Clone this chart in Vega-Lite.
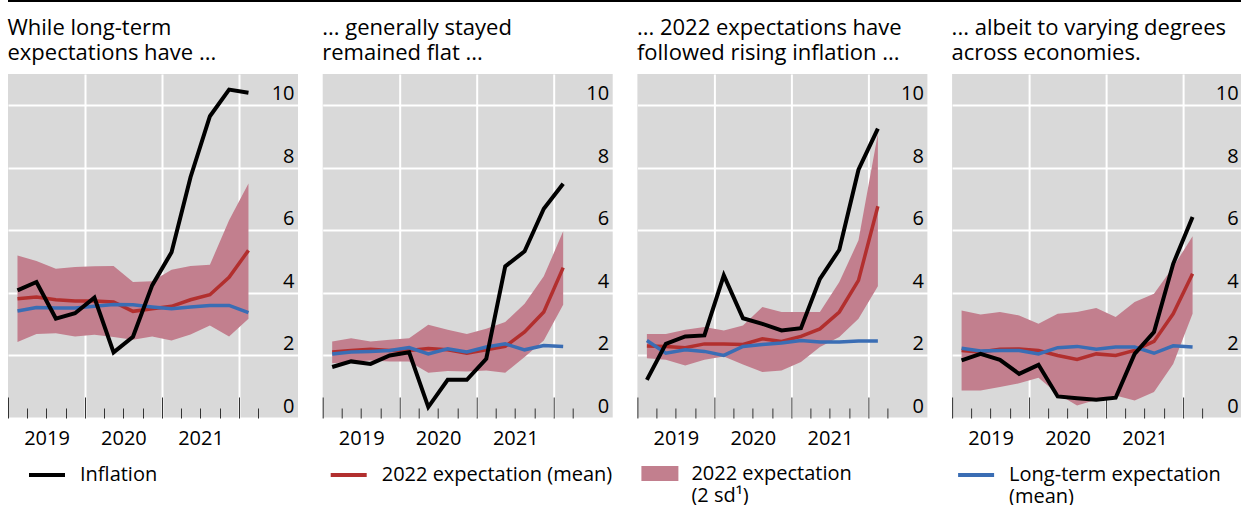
{
  "$schema": "https://vega.github.io/schema/vega-lite/v6.json",
  "padding": {"left": 7, "top": 0, "right": 0, "bottom": 0},
  "background": "#ffffff",
  "datasets": {
    "obs": [
      {"country": "BR", "date": "2019-02-15", "inflation": 4.08, "exp_mean": 3.81, "exp_lo": 2.43, "exp_hi": 5.2, "lt_mean": 3.42},
      {"country": "BR", "date": "2019-05-16", "inflation": 4.35, "exp_mean": 3.87, "exp_lo": 2.69, "exp_hi": 5.02, "lt_mean": 3.53},
      {"country": "BR", "date": "2019-08-16", "inflation": 3.18, "exp_mean": 3.78, "exp_lo": 2.71, "exp_hi": 4.77, "lt_mean": 3.52},
      {"country": "BR", "date": "2019-11-15", "inflation": 3.35, "exp_mean": 3.74, "exp_lo": 2.61, "exp_hi": 4.83, "lt_mean": 3.52},
      {"country": "BR", "date": "2020-02-15", "inflation": 3.85, "exp_mean": 3.74, "exp_lo": 2.66, "exp_hi": 4.85, "lt_mean": 3.57},
      {"country": "BR", "date": "2020-05-16", "inflation": 2.1, "exp_mean": 3.71, "exp_lo": 2.59, "exp_hi": 4.86, "lt_mean": 3.63},
      {"country": "BR", "date": "2020-08-16", "inflation": 2.6, "exp_mean": 3.41, "exp_lo": 2.5, "exp_hi": 4.35, "lt_mean": 3.62},
      {"country": "BR", "date": "2020-11-15", "inflation": 4.24, "exp_mean": 3.49, "exp_lo": 2.61, "exp_hi": 4.37, "lt_mean": 3.55},
      {"country": "BR", "date": "2021-02-15", "inflation": 5.3, "exp_mean": 3.57, "exp_lo": 2.48, "exp_hi": 4.74, "lt_mean": 3.49},
      {"country": "BR", "date": "2021-05-16", "inflation": 7.7, "exp_mean": 3.78, "exp_lo": 2.67, "exp_hi": 4.86, "lt_mean": 3.55},
      {"country": "BR", "date": "2021-08-16", "inflation": 9.65, "exp_mean": 3.94, "exp_lo": 2.96, "exp_hi": 4.9, "lt_mean": 3.6},
      {"country": "BR", "date": "2021-11-15", "inflation": 10.5, "exp_mean": 4.5, "exp_lo": 2.61, "exp_hi": 6.32, "lt_mean": 3.6},
      {"country": "BR", "date": "2022-02-15", "inflation": 10.4, "exp_mean": 5.36, "exp_lo": 3.17, "exp_hi": 7.5, "lt_mean": 3.37},
      {"country": "US", "date": "2019-02-15", "inflation": 1.63, "exp_mean": 2.11, "exp_lo": 1.75, "exp_hi": 2.45, "lt_mean": 2.05},
      {"country": "US", "date": "2019-05-16", "inflation": 1.81, "exp_mean": 2.16, "exp_lo": 1.79, "exp_hi": 2.55, "lt_mean": 2.11},
      {"country": "US", "date": "2019-08-16", "inflation": 1.73, "exp_mean": 2.2, "exp_lo": 1.84, "exp_hi": 2.45, "lt_mean": 2.13},
      {"country": "US", "date": "2019-11-15", "inflation": 2.0, "exp_mean": 2.16, "exp_lo": 1.81, "exp_hi": 2.5, "lt_mean": 2.16},
      {"country": "US", "date": "2020-02-15", "inflation": 2.1, "exp_mean": 2.16, "exp_lo": 1.81, "exp_hi": 2.55, "lt_mean": 2.25},
      {"country": "US", "date": "2020-05-16", "inflation": 0.35, "exp_mean": 2.22, "exp_lo": 1.45, "exp_hi": 2.98, "lt_mean": 2.05},
      {"country": "US", "date": "2020-08-16", "inflation": 1.22, "exp_mean": 2.18, "exp_lo": 1.5, "exp_hi": 2.82, "lt_mean": 2.21},
      {"country": "US", "date": "2020-11-15", "inflation": 1.22, "exp_mean": 2.07, "exp_lo": 1.49, "exp_hi": 2.69, "lt_mean": 2.11},
      {"country": "US", "date": "2021-02-15", "inflation": 1.89, "exp_mean": 2.18, "exp_lo": 1.52, "exp_hi": 2.85, "lt_mean": 2.27},
      {"country": "US", "date": "2021-05-16", "inflation": 4.85, "exp_mean": 2.29, "exp_lo": 1.45, "exp_hi": 3.07, "lt_mean": 2.37},
      {"country": "US", "date": "2021-08-16", "inflation": 5.33, "exp_mean": 2.75, "exp_lo": 1.95, "exp_hi": 3.65, "lt_mean": 2.18},
      {"country": "US", "date": "2021-11-15", "inflation": 6.69, "exp_mean": 3.39, "exp_lo": 2.48, "exp_hi": 4.53, "lt_mean": 2.32},
      {"country": "US", "date": "2022-02-15", "inflation": 7.49, "exp_mean": 4.81, "exp_lo": 3.62, "exp_hi": 5.97, "lt_mean": 2.29},
      {"country": "PL", "date": "2019-02-15", "inflation": 1.22, "exp_mean": 2.3, "exp_lo": 1.91, "exp_hi": 2.69, "lt_mean": 2.48},
      {"country": "PL", "date": "2019-05-16", "inflation": 2.37, "exp_mean": 2.29, "exp_lo": 1.86, "exp_hi": 2.69, "lt_mean": 2.07},
      {"country": "PL", "date": "2019-08-16", "inflation": 2.61, "exp_mean": 2.25, "exp_lo": 1.68, "exp_hi": 2.82, "lt_mean": 2.18},
      {"country": "PL", "date": "2019-11-15", "inflation": 2.64, "exp_mean": 2.37, "exp_lo": 1.86, "exp_hi": 2.91, "lt_mean": 2.13},
      {"country": "PL", "date": "2020-02-15", "inflation": 4.56, "exp_mean": 2.37, "exp_lo": 1.97, "exp_hi": 2.8, "lt_mean": 2.0},
      {"country": "PL", "date": "2020-05-16", "inflation": 3.19, "exp_mean": 2.35, "exp_lo": 1.71, "exp_hi": 2.96, "lt_mean": 2.29},
      {"country": "PL", "date": "2020-08-16", "inflation": 3.01, "exp_mean": 2.53, "exp_lo": 1.47, "exp_hi": 3.55, "lt_mean": 2.35},
      {"country": "PL", "date": "2020-11-15", "inflation": 2.8, "exp_mean": 2.45, "exp_lo": 1.52, "exp_hi": 3.39, "lt_mean": 2.4},
      {"country": "PL", "date": "2021-02-15", "inflation": 2.87, "exp_mean": 2.61, "exp_lo": 1.79, "exp_hi": 3.39, "lt_mean": 2.48},
      {"country": "PL", "date": "2021-05-16", "inflation": 4.45, "exp_mean": 2.85, "exp_lo": 2.27, "exp_hi": 3.39, "lt_mean": 2.43},
      {"country": "PL", "date": "2021-08-16", "inflation": 5.38, "exp_mean": 3.39, "exp_lo": 2.59, "exp_hi": 4.35, "lt_mean": 2.43},
      {"country": "PL", "date": "2021-11-15", "inflation": 7.94, "exp_mean": 4.4, "exp_lo": 3.17, "exp_hi": 5.68, "lt_mean": 2.46},
      {"country": "PL", "date": "2022-02-15", "inflation": 9.25, "exp_mean": 6.77, "exp_lo": 4.21, "exp_hi": 9.09, "lt_mean": 2.46},
      {"country": "GB", "date": "2019-02-15", "inflation": 1.84, "exp_mean": 2.16, "exp_lo": 0.88, "exp_hi": 3.44, "lt_mean": 2.23},
      {"country": "GB", "date": "2019-05-16", "inflation": 2.05, "exp_mean": 2.11, "exp_lo": 0.88, "exp_hi": 3.31, "lt_mean": 2.14},
      {"country": "GB", "date": "2019-08-16", "inflation": 1.86, "exp_mean": 2.2, "exp_lo": 0.99, "exp_hi": 3.39, "lt_mean": 2.16},
      {"country": "GB", "date": "2019-11-15", "inflation": 1.41, "exp_mean": 2.21, "exp_lo": 1.11, "exp_hi": 3.28, "lt_mean": 2.16},
      {"country": "GB", "date": "2020-02-15", "inflation": 1.7, "exp_mean": 2.16, "exp_lo": 1.29, "exp_hi": 3.01, "lt_mean": 2.05},
      {"country": "GB", "date": "2020-05-16", "inflation": 0.69, "exp_mean": 2.0, "exp_lo": 0.77, "exp_hi": 3.33, "lt_mean": 2.25},
      {"country": "GB", "date": "2020-08-16", "inflation": 0.63, "exp_mean": 1.87, "exp_lo": 0.4, "exp_hi": 3.39, "lt_mean": 2.29},
      {"country": "GB", "date": "2020-11-15", "inflation": 0.58, "exp_mean": 2.05, "exp_lo": 0.58, "exp_hi": 3.52, "lt_mean": 2.2},
      {"country": "GB", "date": "2021-02-15", "inflation": 0.65, "exp_mean": 2.0, "exp_lo": 0.72, "exp_hi": 3.23, "lt_mean": 2.27},
      {"country": "GB", "date": "2021-05-16", "inflation": 2.05, "exp_mean": 2.16, "exp_lo": 0.56, "exp_hi": 3.71, "lt_mean": 2.27},
      {"country": "GB", "date": "2021-08-16", "inflation": 2.75, "exp_mean": 2.45, "exp_lo": 0.83, "exp_hi": 3.97, "lt_mean": 2.07},
      {"country": "GB", "date": "2021-11-15", "inflation": 4.93, "exp_mean": 3.33, "exp_lo": 1.73, "exp_hi": 4.83, "lt_mean": 2.31},
      {"country": "GB", "date": "2022-02-15", "inflation": 6.43, "exp_mean": 4.61, "exp_lo": 3.33, "exp_hi": 5.81, "lt_mean": 2.27}
    ]
  },
  "bounds": "flush",
  "spacing": 72,
  "vconcat": [
    {
      "width": 1234,
      "height": 1,
      "data": {"values": [{}]},
      "view": {"fill": null, "stroke": null},
      "mark": {"type": "rule", "color": "#000000", "strokeWidth": 2},
      "encoding": {"y": {"datum": 1, "type": "quantitative", "scale": {"domain": [0, 1]}, "axis": null}}
    },
    {
      "bounds": "flush",
      "spacing": 24.7,
      "resolve": {"scale": {"color": "independent"}},
      "hconcat": [
        {
          "title": {"text": ["While long-term", "expectations have ..."]},
          "width": 290,
          "height": 344,
          "data": {"name": "obs"},
          "transform": [{"filter": "datum.country === 'BR'"}],
          "encoding": {
            "x": {
              "field": "date", "type": "temporal", "title": null,
              "scale": {"type": "utc", "domain": [{"year": 2019, "month": 1, "date": 1, "utc": true}, {"year": 2022, "month": 10, "date": 8, "utc": true}]},
              "axis": {
                "values": [
                  {"year": 2019, "month": 1, "date": 1, "utc": true}, {"year": 2019, "month": 4, "date": 1, "utc": true}, {"year": 2019, "month": 7, "date": 1, "utc": true}, {"year": 2019, "month": 10, "date": 1, "utc": true},
                  {"year": 2020, "month": 1, "date": 1, "utc": true}, {"year": 2020, "month": 4, "date": 1, "utc": true}, {"year": 2020, "month": 7, "date": 1, "utc": true}, {"year": 2020, "month": 10, "date": 1, "utc": true},
                  {"year": 2021, "month": 1, "date": 1, "utc": true}, {"year": 2021, "month": 4, "date": 1, "utc": true}, {"year": 2021, "month": 7, "date": 1, "utc": true}, {"year": 2021, "month": 10, "date": 1, "utc": true},
                  {"year": 2022, "month": 1, "date": 1, "utc": true}, {"year": 2022, "month": 4, "date": 1, "utc": true}
                ],
                "labelExpr": "utcmonth(datum.value) === 0 && utcyear(datum.value) < 2022 ? utcFormat(datum.value, '%Y') : ''",
                "tickSize": {"condition": {"test": "utcmonth(datum.value) === 0", "value": -21}, "value": -10},
                "gridOpacity": {"condition": {"test": "utcmonth(datum.value) === 0 && utcyear(datum.value) > 2019", "value": 1}, "value": 0}
              }
            }
          },
          "layer": [
            {
              "mark": {"type": "area", "color": "#c27f8e"},
              "encoding": {
                "y": {"field": "exp_lo", "type": "quantitative", "title": null, "scale": {"domain": [0, 11]}, "axis": {"values": [0, 2, 4, 6, 8, 10], "orient": "right"}},
                "y2": {"field": "exp_hi"}
              }
            },
            {
              "mark": {"type": "line", "color": "#b22f2e", "strokeWidth": 3.5},
              "encoding": {"y": {"field": "exp_mean", "type": "quantitative", "title": null, "scale": {"domain": [0, 11]}}}
            },
            {
              "mark": {"type": "line", "color": "#3a6db4", "strokeWidth": 3.5},
              "encoding": {"y": {"field": "lt_mean", "type": "quantitative", "title": null, "scale": {"domain": [0, 11]}}}
            },
            {
              "mark": {"type": "line", "strokeWidth": 4},
              "encoding": {
                "y": {"field": "inflation", "type": "quantitative", "title": null, "scale": {"domain": [0, 11]}},
                "color": {
                  "datum": "Inflation", "type": "nominal",
                  "scale": {"range": ["#000000"]},
                  "legend": {"title": null, "legendX": 19, "legendY": 381, "symbolType": "stroke", "symbolSize": 1296, "symbolStrokeWidth": 4}
                }
              }
            },
            {
              "data": {"values": [{"country": "BR"}]},
              "mark": {"type": "text", "fontWeight": "bold", "fontSize": 19, "baseline": "middle", "align": "center", "dx": 1, "color": "#000000"},
              "encoding": {
                "text": {"field": "country"},
                "x": {"datum": {"year": 2021, "month": 1, "date": 1, "utc": true}},
                "y": {"datum": 10.4}
              }
            }
          ]
        },
        {
          "title": {"text": ["... generally stayed", "remained flat ..."]},
          "width": 290,
          "height": 344,
          "data": {"name": "obs"},
          "transform": [{"filter": "datum.country === 'US'"}],
          "encoding": {
            "x": {
              "field": "date", "type": "temporal", "title": null,
              "scale": {"type": "utc", "domain": [{"year": 2019, "month": 1, "date": 1, "utc": true}, {"year": 2022, "month": 10, "date": 8, "utc": true}]},
              "axis": {
                "values": [
                  {"year": 2019, "month": 1, "date": 1, "utc": true}, {"year": 2019, "month": 4, "date": 1, "utc": true}, {"year": 2019, "month": 7, "date": 1, "utc": true}, {"year": 2019, "month": 10, "date": 1, "utc": true},
                  {"year": 2020, "month": 1, "date": 1, "utc": true}, {"year": 2020, "month": 4, "date": 1, "utc": true}, {"year": 2020, "month": 7, "date": 1, "utc": true}, {"year": 2020, "month": 10, "date": 1, "utc": true},
                  {"year": 2021, "month": 1, "date": 1, "utc": true}, {"year": 2021, "month": 4, "date": 1, "utc": true}, {"year": 2021, "month": 7, "date": 1, "utc": true}, {"year": 2021, "month": 10, "date": 1, "utc": true},
                  {"year": 2022, "month": 1, "date": 1, "utc": true}, {"year": 2022, "month": 4, "date": 1, "utc": true}
                ],
                "labelExpr": "utcmonth(datum.value) === 0 && utcyear(datum.value) < 2022 ? utcFormat(datum.value, '%Y') : ''",
                "tickSize": {"condition": {"test": "utcmonth(datum.value) === 0", "value": -21}, "value": -10},
                "gridOpacity": {"condition": {"test": "utcmonth(datum.value) === 0 && utcyear(datum.value) > 2019", "value": 1}, "value": 0}
              }
            }
          },
          "layer": [
            {
              "mark": {"type": "area", "color": "#c27f8e"},
              "encoding": {
                "y": {"field": "exp_lo", "type": "quantitative", "title": null, "scale": {"domain": [0, 11]}, "axis": {"values": [0, 2, 4, 6, 8, 10], "orient": "right"}},
                "y2": {"field": "exp_hi"}
              }
            },
            {
              "mark": {"type": "line", "strokeWidth": 3.5},
              "encoding": {
                "y": {"field": "exp_mean", "type": "quantitative", "title": null, "scale": {"domain": [0, 11]}},
                "color": {
                  "datum": "2022 expectation (mean)", "type": "nominal",
                  "scale": {"range": ["#b22f2e"]},
                  "legend": {"title": null, "legendX": 6, "legendY": 381, "symbolType": "stroke", "symbolSize": 1296, "symbolStrokeWidth": 4}
                }
              }
            },
            {
              "mark": {"type": "line", "color": "#3a6db4", "strokeWidth": 3.5},
              "encoding": {"y": {"field": "lt_mean", "type": "quantitative", "title": null, "scale": {"domain": [0, 11]}}}
            },
            {
              "mark": {"type": "line", "color": "#000000", "strokeWidth": 4},
              "encoding": {"y": {"field": "inflation", "type": "quantitative", "title": null, "scale": {"domain": [0, 11]}}}
            },
            {
              "data": {"values": [{"country": "US"}]},
              "mark": {"type": "text", "fontWeight": "bold", "fontSize": 19, "baseline": "middle", "align": "center", "dx": 1, "color": "#000000"},
              "encoding": {
                "text": {"field": "country"},
                "x": {"datum": {"year": 2021, "month": 1, "date": 1, "utc": true}},
                "y": {"datum": 10.4}
              }
            }
          ]
        },
        {
          "title": {"text": ["... 2022 expectations have", "followed rising inflation ..."]},
          "width": 290,
          "height": 344,
          "data": {"name": "obs"},
          "transform": [{"filter": "datum.country === 'PL'"}],
          "encoding": {
            "x": {
              "field": "date", "type": "temporal", "title": null,
              "scale": {"type": "utc", "domain": [{"year": 2019, "month": 1, "date": 1, "utc": true}, {"year": 2022, "month": 10, "date": 8, "utc": true}]},
              "axis": {
                "values": [
                  {"year": 2019, "month": 1, "date": 1, "utc": true}, {"year": 2019, "month": 4, "date": 1, "utc": true}, {"year": 2019, "month": 7, "date": 1, "utc": true}, {"year": 2019, "month": 10, "date": 1, "utc": true},
                  {"year": 2020, "month": 1, "date": 1, "utc": true}, {"year": 2020, "month": 4, "date": 1, "utc": true}, {"year": 2020, "month": 7, "date": 1, "utc": true}, {"year": 2020, "month": 10, "date": 1, "utc": true},
                  {"year": 2021, "month": 1, "date": 1, "utc": true}, {"year": 2021, "month": 4, "date": 1, "utc": true}, {"year": 2021, "month": 7, "date": 1, "utc": true}, {"year": 2021, "month": 10, "date": 1, "utc": true},
                  {"year": 2022, "month": 1, "date": 1, "utc": true}, {"year": 2022, "month": 4, "date": 1, "utc": true}
                ],
                "labelExpr": "utcmonth(datum.value) === 0 && utcyear(datum.value) < 2022 ? utcFormat(datum.value, '%Y') : ''",
                "tickSize": {"condition": {"test": "utcmonth(datum.value) === 0", "value": -21}, "value": -10},
                "gridOpacity": {"condition": {"test": "utcmonth(datum.value) === 0 && utcyear(datum.value) > 2019", "value": 1}, "value": 0}
              }
            }
          },
          "layer": [
            {
              "mark": {"type": "area"},
              "encoding": {
                "y": {"field": "exp_lo", "type": "quantitative", "title": null, "scale": {"domain": [0, 11]}, "axis": {"values": [0, 2, 4, 6, 8, 10], "orient": "right"}},
                "y2": {"field": "exp_hi"},
                "color": {
                  "datum": "2022 expectation (2 sd¹)", "type": "nominal",
                  "scale": {"range": ["#c27f8e"]},
                  "legend": {"title": null, "legendX": 4, "legendY": 381, "symbolType": "M-1,-0.4H1V0.4H-1Z", "symbolSize": 1369, "symbolStrokeWidth": 0, "labelExpr": "['2022 expectation', '(2 sd¹)']"}
                }
              }
            },
            {
              "mark": {"type": "line", "color": "#b22f2e", "strokeWidth": 3.5},
              "encoding": {"y": {"field": "exp_mean", "type": "quantitative", "title": null, "scale": {"domain": [0, 11]}}}
            },
            {
              "mark": {"type": "line", "color": "#3a6db4", "strokeWidth": 3.5},
              "encoding": {"y": {"field": "lt_mean", "type": "quantitative", "title": null, "scale": {"domain": [0, 11]}}}
            },
            {
              "mark": {"type": "line", "color": "#000000", "strokeWidth": 4},
              "encoding": {"y": {"field": "inflation", "type": "quantitative", "title": null, "scale": {"domain": [0, 11]}}}
            },
            {
              "data": {"values": [{"country": "PL"}]},
              "mark": {"type": "text", "fontWeight": "bold", "fontSize": 19, "baseline": "middle", "align": "center", "dx": 1, "color": "#000000"},
              "encoding": {
                "text": {"field": "country"},
                "x": {"datum": {"year": 2021, "month": 1, "date": 1, "utc": true}},
                "y": {"datum": 10.4}
              }
            }
          ]
        },
        {
          "title": {"text": ["... albeit to varying degrees", "across economies."]},
          "width": 290,
          "height": 344,
          "data": {"name": "obs"},
          "transform": [{"filter": "datum.country === 'GB'"}],
          "encoding": {
            "x": {
              "field": "date", "type": "temporal", "title": null,
              "scale": {"type": "utc", "domain": [{"year": 2019, "month": 1, "date": 1, "utc": true}, {"year": 2022, "month": 10, "date": 8, "utc": true}]},
              "axis": {
                "values": [
                  {"year": 2019, "month": 1, "date": 1, "utc": true}, {"year": 2019, "month": 4, "date": 1, "utc": true}, {"year": 2019, "month": 7, "date": 1, "utc": true}, {"year": 2019, "month": 10, "date": 1, "utc": true},
                  {"year": 2020, "month": 1, "date": 1, "utc": true}, {"year": 2020, "month": 4, "date": 1, "utc": true}, {"year": 2020, "month": 7, "date": 1, "utc": true}, {"year": 2020, "month": 10, "date": 1, "utc": true},
                  {"year": 2021, "month": 1, "date": 1, "utc": true}, {"year": 2021, "month": 4, "date": 1, "utc": true}, {"year": 2021, "month": 7, "date": 1, "utc": true}, {"year": 2021, "month": 10, "date": 1, "utc": true},
                  {"year": 2022, "month": 1, "date": 1, "utc": true}, {"year": 2022, "month": 4, "date": 1, "utc": true}
                ],
                "labelExpr": "utcmonth(datum.value) === 0 && utcyear(datum.value) < 2022 ? utcFormat(datum.value, '%Y') : ''",
                "tickSize": {"condition": {"test": "utcmonth(datum.value) === 0", "value": -21}, "value": -10},
                "gridOpacity": {"condition": {"test": "utcmonth(datum.value) === 0 && utcyear(datum.value) > 2019", "value": 1}, "value": 0}
              }
            }
          },
          "layer": [
            {
              "mark": {"type": "area", "color": "#c27f8e"},
              "encoding": {
                "y": {"field": "exp_lo", "type": "quantitative", "title": null, "scale": {"domain": [0, 11]}, "axis": {"values": [0, 2, 4, 6, 8, 10], "orient": "right"}},
                "y2": {"field": "exp_hi"}
              }
            },
            {
              "mark": {"type": "line", "color": "#b22f2e", "strokeWidth": 3.5},
              "encoding": {"y": {"field": "exp_mean", "type": "quantitative", "title": null, "scale": {"domain": [0, 11]}}}
            },
            {
              "mark": {"type": "line", "strokeWidth": 3.5},
              "encoding": {
                "y": {"field": "lt_mean", "type": "quantitative", "title": null, "scale": {"domain": [0, 11]}},
                "color": {
                  "datum": "Long-term expectation (mean)", "type": "nominal",
                  "scale": {"range": ["#3a6db4"]},
                  "legend": {"title": null, "legendX": 4, "legendY": 381, "symbolType": "stroke", "symbolSize": 1296, "symbolStrokeWidth": 4, "labelExpr": "['Long-term expectation', '(mean)']"}
                }
              }
            },
            {
              "mark": {"type": "line", "color": "#000000", "strokeWidth": 4},
              "encoding": {"y": {"field": "inflation", "type": "quantitative", "title": null, "scale": {"domain": [0, 11]}}}
            },
            {
              "data": {"values": [{"country": "GB"}]},
              "mark": {"type": "text", "fontWeight": "bold", "fontSize": 19, "baseline": "middle", "align": "center", "dx": 1, "color": "#000000"},
              "encoding": {
                "text": {"field": "country"},
                "x": {"datum": {"year": 2021, "month": 1, "date": 1, "utc": true}},
                "y": {"datum": 10.4}
              }
            }
          ]
        }
      ]
    }
  ],
  "config": {
    "font": "Open Sans",
    "view": {"fill": "#d9d9d9", "stroke": null},
    "title": {"anchor": "start", "fontSize": 22, "fontWeight": "normal", "color": "#000000", "lineHeight": 25, "offset": 9, "font": "Open Sans"},
    "text": {"font": "Open Sans"},
    "axis": {"labelFont": "Open Sans", "labelColor": "#000000"},
    "axisX": {
      "domain": false, "grid": true, "gridColor": "#ffffff", "gridWidth": 2,
      "tickColor": "#333333", "tickWidth": 1,
      "labelOffset": 38.5, "labelPadding": 31, "labelBaseline": "top", "labelAlign": "center",
      "labelOverlap": false, "labelFlush": false, "labelBound": false, "labelFontSize": 20
    },
    "axisY": {
      "domain": false, "ticks": false, "tickSize": 0, "grid": true, "gridColor": "#ffffff", "gridWidth": 2,
      "labelAlign": "right", "labelPadding": -4, "labelBaseline": "alphabetic", "labelOffset": -5.5,
      "labelFontSize": 20, "labelOverlap": false, "labelBound": false
    },
    "legend": {"orient": "none", "padding": 0, "labelFont": "Open Sans", "labelFontSize": 20, "labelColor": "#000000", "labelOffset": 13, "labelLimit": 400, "symbolOpacity": 1}
  }
}
